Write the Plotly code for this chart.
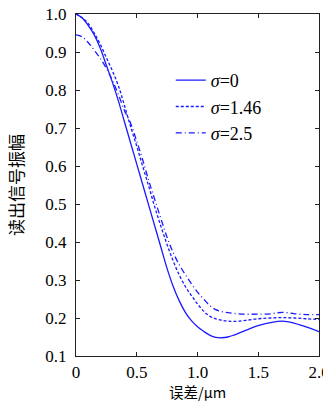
import plotly.graph_objects as go

# ---- data ----
x_vals = [0, 0.05, 0.1, 0.15, 0.2, 0.25, 0.3, 0.35, 0.4, 0.45, 0.5, 0.55, 0.6, 0.65,
          0.7, 0.75, 0.8, 0.85, 0.9, 0.95, 1.0, 1.05, 1.1, 1.15, 1.2, 1.25, 1.3, 1.4,
          1.5, 1.6, 1.7, 1.8, 1.9, 2.0]

sigma0 = [1.0, 0.99, 0.97, 0.945, 0.91, 0.865, 0.82, 0.77, 0.715, 0.66, 0.605, 0.55,
          0.495, 0.44, 0.385, 0.33, 0.283, 0.245, 0.215, 0.193, 0.177, 0.165, 0.155,
          0.149, 0.148, 0.15, 0.155, 0.168, 0.18, 0.188, 0.192, 0.186, 0.176, 0.164]

sigma146 = [1.0, 0.99, 0.975, 0.95, 0.92, 0.885, 0.85, 0.81, 0.758, 0.703, 0.652, 0.598,
            0.545, 0.49, 0.44, 0.393, 0.35, 0.313, 0.283, 0.259, 0.237, 0.218, 0.205, 0.198,
            0.194, 0.192, 0.191, 0.194, 0.198, 0.2, 0.201, 0.2, 0.198, 0.196]

sigma25 = [0.945, 0.94, 0.925, 0.905, 0.883, 0.857, 0.825, 0.787, 0.745, 0.712, 0.665,
           0.615, 0.56, 0.51, 0.46, 0.412, 0.372, 0.34, 0.314, 0.29, 0.268, 0.25, 0.233,
           0.222, 0.217, 0.214, 0.212, 0.21, 0.21, 0.211, 0.215, 0.211, 0.209, 0.209]

series_names = ["<i>σ</i>=0", "<i>σ</i>=1.46", "<i>σ</i>=2.5"]

x_tickvals = [0, 0.5, 1.0, 1.5, 2.0]
x_ticktext = ["0", "0.5", "1.0", "1.5", "2.0"]
y_tickvals = [0.1, 0.2, 0.3, 0.4, 0.5, 0.6, 0.7, 0.8, 0.9, 1.0]
y_ticktext = ["0.1", "0.2", "0.3", "0.4", "0.5", "0.6", "0.7", "0.8", "0.9", "1.0"]

x_title = "误差/μm"
y_title = "读出信号振幅"

# ---- figure ----
blue = "#1a1aff"
serif = "Liberation Serif"
cjk = "Noto Sans CJK SC"

fig = go.Figure()
fig.add_trace(go.Scatter(x=x_vals, y=sigma0, mode="lines", name=series_names[0],
                         line=dict(color=blue, width=1.3, shape="spline", dash="solid")))
fig.add_trace(go.Scatter(x=x_vals, y=sigma146, mode="lines", name=series_names[1],
                         line=dict(color=blue, width=1.3, shape="spline", dash="3px,2px")))
fig.add_trace(go.Scatter(x=x_vals, y=sigma25, mode="lines", name=series_names[2],
                         line=dict(color=blue, width=1.3, shape="spline", dash="6px,3px,1px,3px")))

axis_common = dict(
    showgrid=False, zeroline=False, showline=True, linecolor="#222", linewidth=1.3,
    mirror="ticks", ticks="inside", ticklen=4, tickwidth=1, tickcolor="#222",
    tickfont=dict(family=serif, size=17, color="black"),
    automargin=False, ticklabeloverflow="allow",
)

fig.update_xaxes(range=[0, 2.0], tickmode="array", tickvals=x_tickvals, ticktext=x_ticktext,
                 **axis_common)
fig.update_yaxes(range=[0.1, 1.0], tickmode="array", tickvals=y_tickvals, ticktext=y_ticktext,
                 ticklabelstandoff=5, **axis_common)

fig.add_annotation(text=x_title, xref="paper", yref="paper", x=0.5, y=0, yshift=-35.5,
                   xanchor="center", yanchor="middle", showarrow=False, borderpad=0,
                   font=dict(family=cjk, size=14.5, color="black"))
fig.add_annotation(text=y_title, xref="paper", yref="paper", x=0, y=0.5, xshift=-61,
                   xanchor="center", yanchor="middle", showarrow=False, textangle=-90,
                   font=dict(family=cjk, size=17, color="black"))

fig.update_layout(
    width=323, height=403,
    margin=dict(l=76, r=4, t=14, b=47),
    paper_bgcolor="white", plot_bgcolor="white",
    font=dict(family=serif, color="black"),
    showlegend=True,
    legend=dict(x=0.39, y=0.86, xanchor="left", yanchor="top", bgcolor="rgba(0,0,0,0)",
                font=dict(family=serif, size=18, color="black"), itemwidth=30,
                tracegroupgap=0),
)

fig.write_html("out.html")
